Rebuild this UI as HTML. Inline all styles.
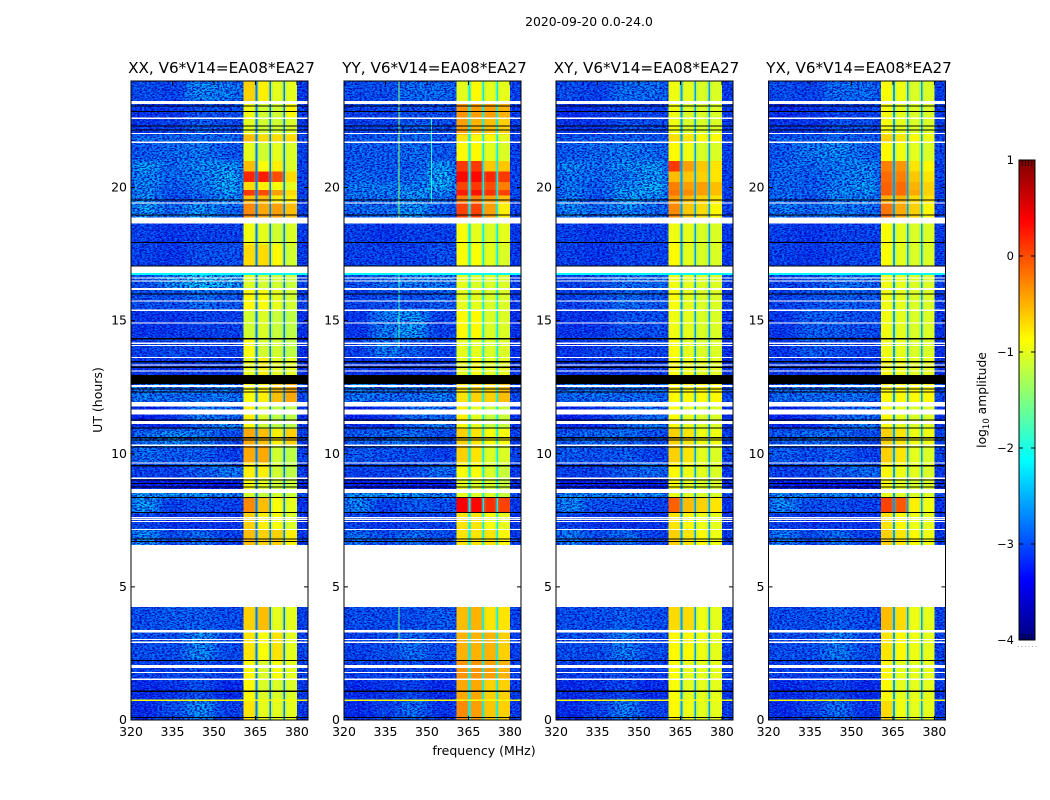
<!DOCTYPE html>
<html>
<head>
<meta charset="utf-8">
<title>2020-09-20 amplitude waterfall</title>
<style>
html,body{margin:0;padding:0;background:#fff;}
svg{display:block;font-family:"DejaVu Sans","Liberation Sans",sans-serif;fill:#000;}
</style>
</head>
<body>
<svg id="chart" width="1050" height="800" viewBox="0 0 1050 800" xmlns="http://www.w3.org/2000/svg">
<defs>
<filter id="noiseDark" x="0" y="0" width="100%" height="100%" color-interpolation-filters="sRGB">
<feTurbulence type="fractalNoise" baseFrequency="0.4 0.7" numOctaves="2" seed="4"/>
<feColorMatrix type="matrix" values="0 0 0 0 0  0 0 0 0 0  0 0 0 0 0.7  5 0 0 0 -2.05"/>
</filter>
<filter id="noiseLight" x="0" y="0" width="100%" height="100%" color-interpolation-filters="sRGB">
<feTurbulence type="fractalNoise" baseFrequency="0.45 0.75" numOctaves="2" seed="11"/>
<feColorMatrix type="matrix" values="0 0 0 0 0  0 0 0 0 0.7  0 0 0 0 1  0 4 0 0 -1.9"/>
</filter>
<filter id="softBg" x="-10%" y="-2%" width="120%" height="104%" color-interpolation-filters="sRGB">
<feGaussianBlur stdDeviation="6 1.5"/>
</filter>
</defs>
<text x="589" y="26" font-size="12.4" text-anchor="middle">2020-09-20 0.0-24.0</text>
<text transform="translate(102,400) rotate(-90)" font-size="12.5" text-anchor="middle">UT (hours)</text>
<text x="484" y="755" font-size="12.5" text-anchor="middle">frequency (MHz)</text>
<text transform="translate(986,400) rotate(-90)" font-size="12.3" text-anchor="middle">log<tspan font-size="8.5" dy="3">10</tspan><tspan dy="-3"> amplitude</tspan></text>
<text x="1017" y="647" font-size="8" fill="#999" letter-spacing="1">......</text>
<g id="panels"></g>
<g id="colorbar"></g>
</svg>
<script>
// ---- chart data ----
const panelTitles = ['XX, V6*V14=EA08*EA27','YY, V6*V14=EA08*EA27','XY, V6*V14=EA08*EA27','YX, V6*V14=EA08*EA27'];
const freqTicks = [320,335,350,365,380];
const timeTicks = [0,5,10,15,20];
const colorbarTicks = [1,0,-1,-2,-3,-4];
const colorbarMinorLevels = [1,-4];
const freqEdges = [320,330,340,350,360.6,365.4,370.4,375.4,380.1,384];
const timeEdges = [24,23.25,22.6,22.0,21.7,21.0,20.6,20.2,19.9,19.7,19.4,18.75,17.85,16.9,16.15,15.39,14.34,13.62,12.8,11.9,11.23,10.93,10.3,9.66,9.08,8.6,8.35,7.8,7.16,5,3.38,2.24,1.5,0.75,0];
const gapChannels = [365.4,370.4,375.4];
const gapLevels = [-2.8,-2.2,-2.6,-2.6];
const backgroundLevel = -3;
const xxLevels = [
[-2.9,-3.0,-2.5,-2.6,-.65,-.8,-1,-1,-3.1],[-3.1,-3.1,-2.9,-2.9,-.95,-1.1,-1.1,-.85,-3.1],[-3.1,-3,-2.8,-2.9,-1,-1.1,-1.1,-1.05,-3.1],
[-2.7,-2.7,-2.7,-2.7,-.55,-.7,-.7,-.7,-3],[-2.8,-2.7,-2.6,-2.8,-1,-1.1,-1,-1.05,-3],[-2.4,-2.7,-2.5,-2.4,-.55,-.9,-.8,-1.05,-3],
[-2.5,-2.7,-2.6,-2.3,.2,.25,0,-.7,-3],[-2.5,-2.8,-2.6,-2.3,-.7,-.8,-.9,-1,-3],[-2.5,-2.9,-2.7,-2.4,.1,0,-.4,-.7,-3],
[-2.5,-2.9,-2.8,-2.5,-.55,-.55,-.8,-.8,-3],[-2.4,-2.7,-2.4,-2.7,-.3,-.45,-.4,-.55,-3],[-3,-3.1,-3,-3,-.95,-1,-1.1,-1.05,-3.1],
[-3,-3.1,-2.9,-2.9,-.7,-.7,-.85,-1.1,-3.1],[-2.9,-2.5,-2.2,-2.3,-1.05,-1.1,-1.1,-1.15,-3],[-2.9,-2.9,-2.7,-2.8,-.85,-.9,-1,-1.1,-3],
[-3.1,-3.1,-3,-3,-1.1,-1.05,-1.15,-1.2,-3.2],[-3,-2.9,-3,-3,-.9,-1.1,-1.1,-1.2,-3.2],[-3.1,-3.1,-3.1,-3.1,-1,-.8,-1,-1,-3.2],
[-2.6,-2.7,-2.7,-2.6,-.9,-.8,-.55,-.45,-2.9],[-3.3,-3.1,-2.6,-2.7,-.8,-1.05,-1.2,-1.2,-3.2],[-3.2,-3.2,-2.8,-2.5,-.9,-1.1,-1.2,-1.2,-3.2],
[-2.7,-2.5,-2.6,-2.9,-.45,-.55,-.8,-.65,-3],[-2.7,-2.8,-2.8,-3,-.45,-.45,-1.1,-1.2,-3],[-3,-3,-2.8,-2.6,-.8,-.8,-1.1,-1.2,-3.1],
[-3.3,-3.3,-3.3,-3.3,-.9,-1,-1.1,-1.15,-3.3],[-2.4,-2.4,-2.4,-2.5,-1.1,-1.15,-1.1,-1.15,-2.9],[-2.4,-3,-2.9,-3,-.3,-.55,-.9,-1,-3.2],
[-3,-3.1,-3.1,-3.1,-.65,-.8,-.9,-1.05,-3.2],[-2.5,-2.9,-2.7,-3,-.55,-.65,-.65,-.8,-3.1],[-2.9,-2.8,-2.8,-2.9,-.65,-.55,-1,-1,-3],
[-2.9,-2.9,-2.5,-2.9,-.75,-.9,-.75,-1,-3],[-3,-3,-2.9,-3,-.85,-1.05,-.9,-1,-3],[-3.2,-3.1,-2.9,-3.2,-.85,-1.05,-1.05,-1.05,-3.1],
[-3.2,-2.9,-2.5,-3,-.75,-1,-1,-1,-3.1]];
const yyLevels = [
[-2.9,-2.9,-2.7,-2.7,-1,-.85,-1,-1,-3],[-3,-3,-2.9,-2.9,-.35,-.4,-.4,-.5,-3.1],[-3,-3,-2.8,-2.9,-.4,-.5,-.55,-.65,-3.1],
[-2.8,-2.8,-2.7,-2.8,-.75,-.85,-.85,-1,-3],[-2.8,-2.8,-2.7,-2.8,-.85,-.85,-1,-1.05,-3],[-2.8,-2.8,-2.8,-2.4,.1,.1,-.6,-.6,-3],
[-2.7,-2.8,-2.7,-2.3,.35,.35,.2,.1,-3],[-2.6,-2.6,-2.6,-2.3,.05,.1,0,-.25,-3],[-2.6,-2.6,-2.4,-2.5,.25,.3,.15,.05,-2.9],
[-2.7,-2.7,-2.5,-2.7,-.25,-.25,-.4,-.55,-3],[-2.7,-2.7,-2.4,-2.8,.05,.05,-.4,-.8,-3],[-3,-3.1,-3,-3,-.9,-1,-1.05,-1,-3.1],
[-3,-3,-3,-2.9,-.9,-.9,-1,-1.05,-3.1],[-2.9,-2.7,-2.6,-2.6,-1,-1.05,-1.05,-1.05,-3],[-3,-2.9,-2.9,-2.8,-1,-1,-1.05,-1.05,-3.1],
[-3.1,-2.6,-2.4,-3,-.85,-.85,-1.05,-1.05,-3.2],[-3,-2.6,-2.8,-3,-1,-1,-1.05,-1.05,-3.2],[-3.1,-3.1,-3.1,-3.1,-1,-.9,-1,-1,-3.2],
[-2.6,-2.7,-2.7,-2.6,-.75,-.65,-.65,-.55,-2.9],[-3.3,-3.1,-2.7,-2.7,-.8,-1,-1.15,-1.15,-3.2],[-3.2,-3.2,-2.8,-2.6,-.9,-1,-1.15,-1.15,-3.2],
[-2.8,-2.7,-2.7,-2.9,-.65,-.75,-.9,-.9,-3],[-2.8,-2.9,-2.9,-3,-.65,-.75,-1.05,-1.05,-3],[-3,-3,-2.9,-2.7,-.9,-.9,-1.05,-1.15,-3.1],
[-3.3,-3.3,-3.3,-3.3,-1,-1,-1.05,-1.15,-3.3],[-2.4,-2.4,-2.4,-2.5,-1,-1.05,-1.05,-1.15,-2.9],[-2.5,-3,-2.8,-2.9,.4,.35,.15,.05,-3.1],
[-3,-3.1,-3,-3,-.75,-.75,-.9,-1,-3.2],[-2.7,-2.9,-2.7,-2.9,-.75,-.75,-.75,-.85,-3.1],[-2.9,-2.9,-2.9,-2.8,-.55,-.5,-.75,-.75,-3],
[-3,-2.9,-2.7,-2.9,-.5,-.5,-.5,-.65,-3],[-3,-3,-2.9,-3,-.35,-.35,-.4,-.5,-3],[-3.2,-3.1,-3,-3.2,-.45,-.45,-.65,-.65,-3.1],
[-3.2,-3,-2.7,-3.1,-.3,-.4,-.6,-.65,-3.1]];
const xyLevels = [
[-2.9,-3,-2.7,-2.7,-.95,-1,-1.05,-1.05,-3.1],[-3.2,-3.1,-3,-3,-.95,-1.05,-1.05,-1.05,-3.1],[-3.1,-3.1,-2.9,-2.9,-.95,-1.05,-1.05,-1.05,-3.1],
[-2.8,-2.8,-2.8,-2.8,-.7,-.75,-.85,-.85,-3],[-2.8,-2.7,-2.6,-2.7,-.85,-.95,-1.05,-1.05,-3],[-2.5,-2.7,-2.5,-2.4,.1,-.4,-.6,-.75,-3],
[-2.6,-2.7,-2.6,-2.4,-.55,-.6,-.65,-.75,-3],[-2.6,-2.8,-2.5,-2.3,-.25,-.4,-.4,-.55,-3],[-2.6,-2.8,-2.4,-2.4,-.2,-.3,-.4,-.55,-3],
[-2.6,-2.9,-2.4,-2.5,-.4,-.55,-.65,-.75,-3],[-2.5,-2.7,-2.5,-2.7,-.3,-.6,-.7,-.85,-3],[-3,-3.1,-3,-3,-.95,-1,-1.05,-1.05,-3.1],
[-3,-3.1,-3,-3,-.85,-1,-1.05,-1.05,-3.1],[-3,-2.9,-2.7,-2.7,-.95,-1,-1.05,-1.05,-3],[-3,-2.9,-2.7,-2.8,-.9,-1,-1.05,-1.05,-3.1],
[-3.1,-3.1,-2.9,-2.9,-.95,-1,-1.05,-1.05,-3.2],[-3.1,-3,-2.9,-3,-.9,-1,-1.05,-1.05,-3.2],[-3.1,-3.1,-3.1,-3.1,-.9,-.95,-1,-1,-3.2],
[-2.7,-2.7,-2.7,-2.7,-.85,-.85,-.85,-.85,-2.9],[-3.3,-3.1,-2.8,-2.7,-.9,-1,-1.05,-1.05,-3.2],[-3.2,-3.2,-2.8,-2.6,-.9,-1,-1.05,-1.05,-3.2],
[-2.8,-2.7,-2.7,-2.9,-.65,-.75,-.95,-.95,-3],[-2.8,-2.9,-2.8,-3,-.65,-.75,-1,-1.05,-3],[-3,-3,-2.8,-2.7,-.85,-.95,-1,-1.05,-3.1],
[-3.3,-3.3,-3.3,-3.3,-.9,-1,-1.05,-1.05,-3.3],[-2.5,-2.5,-2.5,-2.5,-1,-1.05,-1.05,-1.05,-2.9],[-2.5,-2.9,-2.9,-3,-.1,-.55,-.65,-.75,-3.2],
[-3,-3.1,-3.1,-3.1,-.75,-.85,-.95,-1,-3.2],[-2.6,-2.9,-2.7,-3,-.65,-.75,-.85,-.95,-3.1],[-2.9,-2.9,-2.8,-2.9,-.7,-.7,-.95,-1,-3],
[-2.9,-2.9,-2.6,-2.9,-.85,-.85,-.95,-1,-3],[-3,-3,-2.9,-3,-.9,-1,-1,-1,-3],[-3.2,-3.1,-3,-3.2,-.9,-1,-1,-1,-3.1],
[-3.2,-3,-2.6,-3,-.85,-.95,-1,-1,-3.1]];
const yxLevels = [
[-2.9,-3,-2.7,-2.7,-.9,-.95,-1.05,-1.05,-3.1],[-3.2,-3.1,-3,-3,-.9,-1,-1.05,-1.05,-3.1],[-3.1,-3.1,-2.9,-2.9,-.9,-1,-1.05,-1.05,-3.1],
[-2.8,-2.8,-2.7,-2.8,-.65,-.75,-.85,-.95,-3],[-2.8,-2.6,-2.5,-2.7,-.85,-.95,-1,-1.05,-3],[-2.7,-2.7,-2.6,-2.5,-.25,-.35,-.75,-.85,-3],
[-2.7,-2.8,-2.6,-2.5,-.15,-.25,-.6,-.75,-3],[-2.7,-2.8,-2.6,-2.4,-.1,-.15,-.5,-.65,-3],[-2.7,-2.8,-2.5,-2.5,-.1,-.15,-.45,-.65,-3],
[-2.7,-2.9,-2.6,-2.6,-.5,-.5,-.7,-.75,-3],[-2.6,-2.7,-2.6,-2.7,-.2,-.45,-.65,-.85,-3],[-3,-3.1,-3,-3,-.9,-1,-1.05,-1.05,-3.1],
[-3,-3.1,-3,-3,-.9,-1,-1.05,-1.05,-3.1],[-3,-2.9,-2.7,-2.7,-.95,-1,-1.05,-1.05,-3],[-3,-2.9,-2.8,-2.8,-.95,-1,-1.05,-1.05,-3.1],
[-3.1,-2.8,-2.8,-2.9,-.95,-1,-1.05,-1.05,-3.2],[-3.1,-2.8,-2.9,-3,-.95,-1,-1.05,-1.05,-3.2],[-3.1,-3.1,-3.1,-3.1,-.9,-.95,-1,-1,-3.2],
[-2.7,-2.7,-2.7,-2.7,-.85,-.85,-.85,-.85,-2.9],[-3.3,-3.1,-2.8,-2.7,-.9,-1,-1.05,-1.05,-3.2],[-3.2,-3.2,-2.8,-2.6,-.9,-1,-1.05,-1.05,-3.2],
[-2.8,-2.7,-2.7,-2.9,-.65,-.75,-.95,-.95,-3],[-2.8,-2.9,-2.8,-3,-.65,-.75,-1,-1.05,-3],[-3,-3,-2.8,-2.7,-.85,-.95,-1,-1.05,-3.1],
[-3.3,-3.3,-3.3,-3.3,-.9,-1,-1.05,-1.05,-3.3],[-2.5,-2.5,-2.5,-2.5,-1,-1.05,-1.05,-1.05,-2.9],[-2.5,-2.9,-2.9,-3,.05,-.05,-.8,-.95,-3.2],
[-3,-3.1,-3.1,-3.1,-.75,-.85,-.95,-1,-3.2],[-2.6,-2.9,-2.7,-3,-.65,-.75,-.85,-.95,-3.1],[-2.9,-2.9,-2.8,-2.9,-.55,-.7,-.95,-1,-3],
[-2.9,-2.9,-2.6,-2.9,-.75,-.85,-.95,-1,-3],[-3,-3,-2.9,-3,-.85,-1,-1,-1,-3],[-3.2,-3.1,-3,-3.2,-.85,-1,-1,-1,-3.1],
[-3.2,-3,-2.7,-3.1,-.7,-.95,-1,-1,-3.1]];
const panelLevels = [xxLevels,yyLevels,xyLevels,yxLevels];
const rfiHour = [0.72,0.77];
const rfiLevel = -0.9;
const cyanStripHour = [16.71,16.78];
const cyanStripLevel = -2.1;
const yyVerticalRfi = [[339.7,18.64,24,-1.4],[339.7,14.0,16.8,-1.8],[339.7,3.0,4.25,-1.6],[351.5,19.4,22.6,-2.0]];
const whiteBands = [[23.14,23.25],[22.58,22.62],[22.01,22.05],[21.68,21.72],[19.39,19.43],[18.64,18.87],[16.78,17.03],[16.58,16.62],[16.47,16.51],[16.15,16.23],[15.71,15.75],[15.37,15.41],[14.89,14.93],[14.13,14.17],[14.05,14.09],[13.60,13.64],[13.32,13.36],[13.09,13.13],[12.51,12.58],[11.77,11.94],[11.47,11.67],[11.12,11.23],[10.30,10.34],[9.64,9.68],[9.06,9.10],[8.53,8.68],[7.59,7.63],[7.52,7.56],[7.43,7.47],[7.14,7.18],[4.25,6.57],[3.29,3.38],[3.01,3.05],[2.90,2.94],[1.95,2.07],[1.76,1.80],[1.51,1.55]];
const blackBands = [[23.04,23.08],[22.83,22.87],[22.29,22.33],[22.14,22.18],[19.51,19.55],[18.94,18.98],[17.91,17.95],[17.03,17.07],[15.98,16.02],[14.30,14.34],[13.42,13.48],[13.23,13.27],[12.62,12.96],[12.41,12.45],[12.30,12.34],[11.25,11.29],[10.94,10.98],[10.58,10.62],[10.50,10.54],[10.24,10.28],[9.53,9.57],[8.99,9.03],[8.87,8.91],[8.73,8.77],[8.33,8.37],[7.77,7.81],[6.77,6.81],[6.68,6.72],[2.22,2.26],[1.06,1.10],[0.08,0.12]];

// ---- scales ----
const panelLeft = [131,344,556,768.5];
const plotWidth = 177, plotTop = 81, plotBottom = 720;
const fMin = 320, fMax = 384, tMax = 24, cMin = -4, cMax = 1;
const cbLeft = 1019, cbRight = 1035, cbTop = 160, cbBottom = 640;
const NS = 'http://www.w3.org/2000/svg';
function xScale(p, f){ return panelLeft[p] + (f - fMin) / (fMax - fMin) * plotWidth; }
function yScale(h){ return plotBottom - h / tMax * (plotBottom - plotTop); }
function cbScale(v){ return cbBottom - (v - cMin) / (cMax - cMin) * (cbBottom - cbTop); }
function clamp01(v){ return Math.max(0, Math.min(1, v)); }
function jet(v){
  const t = clamp01((v - cMin) / (cMax - cMin));
  const r = clamp01(1.5 - Math.abs(4 * t - 3));
  const g = clamp01(1.5 - Math.abs(4 * t - 2));
  const b = clamp01(1.5 - Math.abs(4 * t - 1));
  return 'rgb(' + Math.round(r * 255) + ',' + Math.round(g * 255) + ',' + Math.round(b * 255) + ')';
}
function mk(parent, tag, attrs){
  const el = document.createElementNS(NS, tag);
  for (const k in attrs) el.setAttribute(k, attrs[k]);
  parent.appendChild(el);
  return el;
}
function bandRect(g, p, f0, f1, hHigh, hLow, fill){
  const x0 = xScale(p, f0), x1 = xScale(p, f1), y0 = yScale(hHigh), y1 = yScale(hLow);
  return mk(g, 'rect', {x: x0, y: y0, width: x1 - x0, height: y1 - y0, fill: fill, 'shape-rendering': 'crispEdges'});
}

const root = document.getElementById('panels');
panelTitles.forEach(function(title, p){
  const g = mk(root, 'g', {});
  
  
  const levels = panelLevels[p];
  const base = bandRect(g, p, fMin, fMax, tMax, 0, jet(backgroundLevel));
  
  
  const clipId = 'clip' + p;
  const clip = mk(g, 'clipPath', {id: clipId});
  mk(clip, 'rect', {x: panelLeft[p], y: plotTop, width: plotWidth, height: plotBottom - plotTop});
  const clipped = mk(g, 'g', {'clip-path': 'url(#' + clipId + ')'});
  const soft = mk(clipped, 'g', {filter: 'url(#softBg)'});
  levels.forEach(function(row, r){
    row.forEach(function(val, c){
      if (c >= 4 && c <= 7) return;
      const cell = bandRect(soft, p, freqEdges[c], freqEdges[c + 1], timeEdges[r], timeEdges[r + 1], jet(val));
      
      
    });
  });
  levels.forEach(function(row, r){
    row.forEach(function(val, c){
      if (c < 4 || c > 7) return;
      const cell = bandRect(g, p, freqEdges[c], freqEdges[c + 1], timeEdges[r], timeEdges[r + 1], jet(val));
      
      
    });
  });
  gapChannels.forEach(function(f){
    const shoulder = bandRect(g, p, f - 0.9, f + 0.9, tMax, 0, 'rgba(40,230,190,0.2)');
    
    
    const gap = bandRect(g, p, f - 0.3, f + 0.3, tMax, 0, jet(gapLevels[p]));
    
    
  });
  [['noiseDark', 0.9], ['noiseLight', 0.5]].forEach(function(n){
    const tex = mk(g, 'rect', {x: xScale(p, fMin), y: plotTop, width: xScale(p, freqEdges[4]) - xScale(p, fMin), height: plotBottom - plotTop, filter: 'url(#' + n[0] + ')', opacity: n[1]});
    
    
    const tex2 = mk(g, 'rect', {x: xScale(p, freqEdges[8]), y: plotTop, width: xScale(p, fMax) - xScale(p, freqEdges[8]), height: plotBottom - plotTop, filter: 'url(#' + n[0] + ')', opacity: n[1]});
    
    
  });
  const rfi = bandRect(g, p, fMin, fMax, rfiHour[1], rfiHour[0], jet(rfiLevel));
  
  
  const strip = bandRect(g, p, fMin, fMax, cyanStripHour[1], cyanStripHour[0], jet(cyanStripLevel));
  
  
  if (p === 1) {
    yyVerticalRfi.forEach(function(v){
      const line = bandRect(g, p, v[0], v[0] + 0.4, v[2], v[1], jet(v[3]));
      
      
    });
  }
  whiteBands.forEach(function(b){
    const m = bandRect(g, p, fMin, fMax, b[1], b[0], '#fff');
    
    
  });
  blackBands.forEach(function(b){
    const m = bandRect(g, p, fMin, fMax, b[1], b[0], '#000');
    
    
  });
  const frame = mk(g, 'rect', {x: panelLeft[p], y: plotTop, width: plotWidth, height: plotBottom - plotTop, fill: 'none', stroke: '#000', 'stroke-width': 1});
  
  
  freqTicks.forEach(function(f){
    const x = xScale(p, f);
    const tb = mk(g, 'line', {x1: x, x2: x, y1: plotBottom, y2: plotBottom - 4, stroke: '#000'});
    
    
    const tt = mk(g, 'line', {x1: x, x2: x, y1: plotTop, y2: plotTop + 4, stroke: '#000'});
    
    
    const lab = mk(g, 'text', {x: x, y: plotBottom + 16, 'font-size': 12.5, 'text-anchor': 'middle'});
    lab.textContent = String(f);
    
    
  });
  timeTicks.forEach(function(h){
    const y = yScale(h);
    const tl = mk(g, 'line', {x1: panelLeft[p], x2: panelLeft[p] + 4, y1: y, y2: y, stroke: '#000'});
    
    
    const tr = mk(g, 'line', {x1: panelLeft[p] + plotWidth, x2: panelLeft[p] + plotWidth - 4, y1: y, y2: y, stroke: '#000'});
    
    
    const lab = mk(g, 'text', {x: panelLeft[p] - 4, y: y + 4, 'font-size': 12.5, 'text-anchor': 'end'});
    lab.textContent = String(h);
    
    
  });
  const t = mk(g, 'text', {x: panelLeft[p] + plotWidth / 2 + 2, y: 73, 'font-size': 15.2, 'text-anchor': 'middle'});
  t.textContent = title;
  
  
});

// ---- colorbar ----
const cb = document.getElementById('colorbar');


for (let y = cbTop; y < cbBottom; y++) {
  const v = cMin + (cbBottom - y - 0.5) / (cbBottom - cbTop) * (cMax - cMin);
  const s = mk(cb, 'rect', {x: cbLeft, y: y, width: cbRight - cbLeft, height: 1, fill: jet(v), 'shape-rendering': 'crispEdges'});
  
  
}
const cbFrame = mk(cb, 'rect', {x: cbLeft, y: cbTop, width: cbRight - cbLeft, height: cbBottom - cbTop, fill: 'none', stroke: '#000'});


colorbarMinorLevels.forEach(function(v){
  const y0 = cbScale(v);
  const dir = v > 0 ? 1 : -1;
  for (let i = 1; i <= 4; i++) {
    const x = cbLeft + i * (cbRight - cbLeft) / 5;
    const a = mk(cb, 'line', {x1: x, x2: x, y1: y0, y2: y0 + dir * 6, stroke: '#000', 'stroke-width': 0.7});
    
    
  }
});
colorbarTicks.forEach(function(v){
  const y = cbScale(v);
  const l = mk(cb, 'line', {x1: cbLeft, x2: cbLeft + 4, y1: y, y2: y, stroke: '#000'});
  
  
  const r = mk(cb, 'line', {x1: cbRight, x2: cbRight - 4, y1: y, y2: y, stroke: '#000'});
  
  
  const lab = mk(cb, 'text', {x: cbLeft - 5, y: y + 4, 'font-size': 11.5, 'text-anchor': 'end'});
  lab.textContent = v < 0 ? '\u2212' + Math.abs(v) : String(v);
  
  
});
</script>
</body>
</html>
